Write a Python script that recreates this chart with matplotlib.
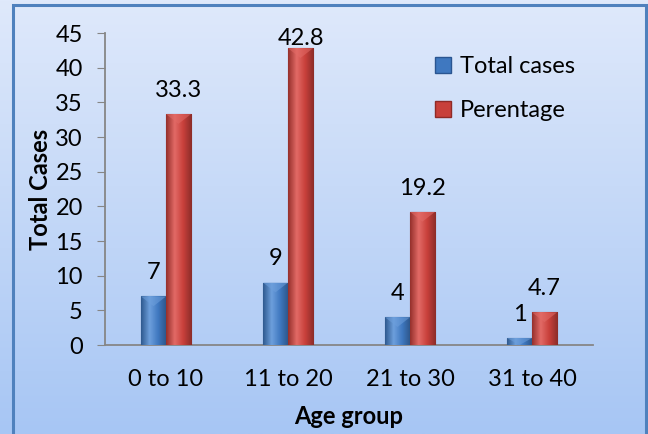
import numpy as np
import matplotlib.pyplot as plt
from matplotlib.colors import LinearSegmentedColormap, to_rgb
from matplotlib.patches import Rectangle

# dati
age_groups = ['0 to 10', '11 to 20', '21 to 30', '31 to 40']
total_cases = [7, 9, 4, 1]
percentage = [33.3, 42.8, 19.2, 4.7]
y_ticks = [0, 5, 10, 15, 20, 25, 30, 35, 40, 45]

plt.rcParams['font.family'] = ['Lato', 'DejaVu Sans']
FS = 17

fig = plt.figure(figsize=(6.48, 4.34), dpi=100)

# sfondo a gradiente verticale
bg = fig.add_axes([0, 0, 1, 1], zorder=-10)
bg.set_axis_off()
grad = np.linspace(0, 1, 256).reshape(-1, 1)
bg_cmap = LinearSegmentedColormap.from_list('bg', ['#dfe9fb', '#a7c6f4'])
bg.imshow(grad, aspect='auto', cmap=bg_cmap, extent=[0, 1, 0, 1], origin='upper')
bg.add_patch(Rectangle((13 / 648, -0.05), (646 - 13) / 648, 1.05 - 5 / 434,
                       fill=False, edgecolor='#4f81bd', lw=2.2, transform=bg.transAxes))
bg.set_xlim(0, 1)
bg.set_ylim(0, 1)

ax = fig.add_axes([105 / 648, 1 - 345 / 434, (593 - 105) / 648, (345 - 33) / 434])
ax.patch.set_alpha(0)

x = np.arange(len(age_groups))
w = 0.205


def shade(c, f):
    r, g, b = to_rgb(c)
    return (r * f, g * f, b * f)


def draw_bars(xs, vals, base, light):
    bars = ax.bar(xs, vals, w, color=base, edgecolor=shade(base, 0.6), lw=0.8, zorder=3)
    cmap = LinearSegmentedColormap.from_list(
        'b', [shade(base, 0.75), light, base, shade(base, 0.7)])
    hgrad = np.linspace(0, 1, 64).reshape(1, -1)
    for b in bars:
        x0, h = b.get_x(), b.get_height()
        im = ax.imshow(hgrad, cmap=cmap, aspect='auto', zorder=3.5,
                       extent=[x0, x0 + w, 0, h])
        im.set_clip_path(b)
        # smussatura sulla cima
        tip = min(h, 1.4)
        ax.fill([x0, x0 + w / 2, x0 + w], [h, h - tip, h], color=light,
                alpha=0.55, zorder=4, lw=0)
    return bars


draw_bars(x - w / 2, total_cases, '#3f78c0', '#6d9fdc')
draw_bars(x + w / 2, percentage, '#c8403b', '#e26a66')

# etichette dei valori, tenute dentro l'area del grafico
y_max_label = 42.7
for i in range(len(age_groups)):
    ax.text(x[i] - w / 2, min(total_cases[i] + 1.9, y_max_label), str(total_cases[i]),
            ha='center', va='bottom', fontsize=FS)
    ax.text(x[i] + w / 2, min(percentage[i] + 1.9, y_max_label), str(percentage[i]),
            ha='center', va='bottom', fontsize=FS)

ax.set_xlim(-0.5, len(age_groups) - 0.5)
ax.set_ylim(0, 45)
ax.set_yticks(y_ticks)
ax.set_xticks(x)
ax.set_xticklabels(age_groups, fontsize=FS)
ax.tick_params(axis='y', labelsize=FS, length=6, color='#868686', pad=10)
ax.tick_params(axis='x', length=0, pad=17)

for s in ['top', 'right']:
    ax.spines[s].set_visible(False)
for s in ['left', 'bottom']:
    ax.spines[s].set_color('#868686')
    ax.spines[s].set_linewidth(1.3)

ax.set_ylabel('Total Cases', fontsize=FS, fontweight='bold', labelpad=2)
ax.set_xlabel('Age group', fontsize=FS, fontweight='bold', labelpad=11)

# legenda
h1 = plt.Line2D([], [], marker='s', ls='', ms=11, mfc='#3f78c0', mec='#2a5591')
h2 = plt.Line2D([], [], marker='s', ls='', ms=11, mfc='#c8403b', mec='#8f2a27')
ax.legend([h1, h2], ['Total cases', 'Perentage'], loc='upper left',
          bbox_to_anchor=(0.625, 0.995), frameon=False, fontsize=FS,
          labelspacing=1.0, handletextpad=0.2, handlelength=1.0)

fig.savefig('out.png', dpi=100)
